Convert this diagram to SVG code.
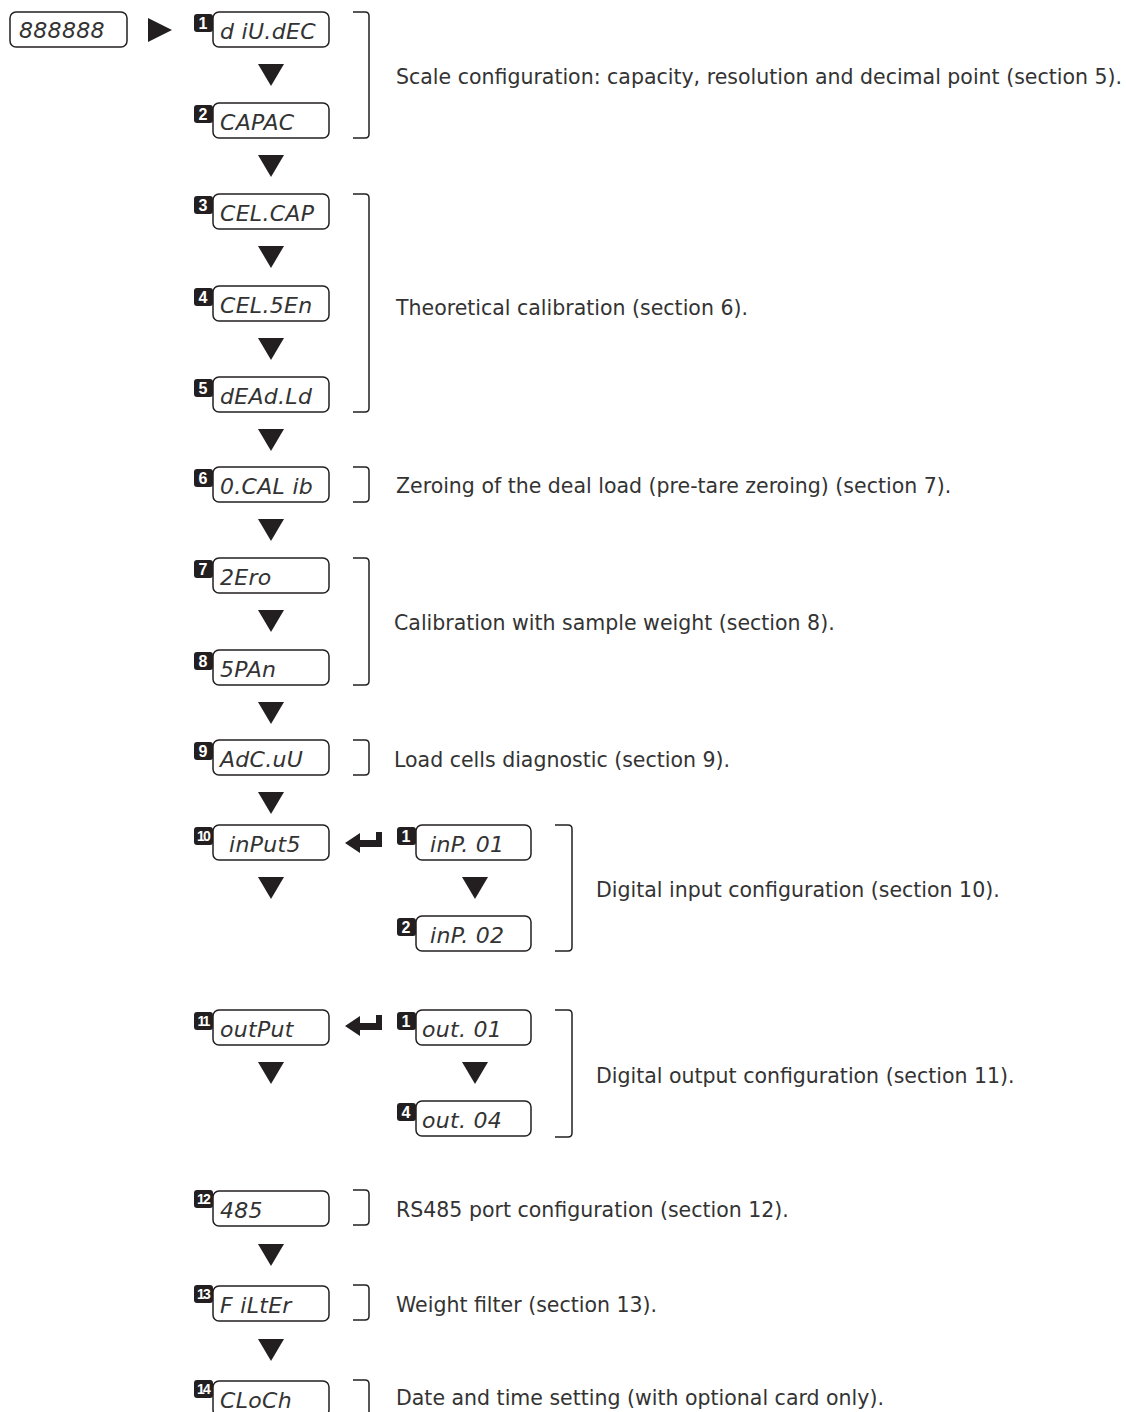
<svg xmlns="http://www.w3.org/2000/svg" width="1126" height="1412" viewBox="0 0 1126 1412">
<style>
.box{fill:#fff;stroke:#231f20;stroke-width:1.5}
.badge{fill:#231f20}
.bn{font-family:"Liberation Sans",Arial,sans-serif;font-weight:bold;font-size:16px;fill:#fff;text-anchor:middle}
.bn2{font-family:"Liberation Sans",Arial,sans-serif;font-weight:bold;font-size:14px;fill:#fff;text-anchor:middle;letter-spacing:-1.8px}
.disp{font-family:"DejaVu Sans","Liberation Sans",sans-serif;font-style:italic;font-size:22px;fill:#333;letter-spacing:0.3px}
.tri{fill:#231f20}
.br{fill:none;stroke:#231f20;stroke-width:1.5}
.lbl{font-family:"DejaVu Sans","Liberation Sans",sans-serif;font-size:20.5px;fill:#333}
</style>
<g id="start">
<rect class="box" x="10" y="12" width="117" height="35" rx="6"/>
<text class="disp" x="19" y="38">888888</text>
</g>
<g id="n1"><rect class="box" x="213" y="12" width="116" height="35" rx="6"/><rect class="badge" x="194" y="14" width="19" height="18" rx="3"/><text class="bn" x="203" y="29">1</text><text class="disp" x="220" y="39">d iU.dEC</text></g>
<g id="n2"><rect class="box" x="213" y="103" width="116" height="35" rx="6"/><rect class="badge" x="194" y="105" width="19" height="18" rx="3"/><text class="bn" x="203" y="120">2</text><text class="disp" x="220" y="130">CAPAC</text></g>
<g id="n3"><rect class="box" x="213" y="194" width="116" height="35" rx="6"/><rect class="badge" x="194" y="196" width="19" height="18" rx="3"/><text class="bn" x="203" y="211">3</text><text class="disp" x="220" y="221">CEL.CAP</text></g>
<g id="n4"><rect class="box" x="213" y="286" width="116" height="35" rx="6"/><rect class="badge" x="194" y="288" width="19" height="18" rx="3"/><text class="bn" x="203" y="303">4</text><text class="disp" x="220" y="313">CEL.5En</text></g>
<g id="n5"><rect class="box" x="213" y="377" width="116" height="35" rx="6"/><rect class="badge" x="194" y="379" width="19" height="18" rx="3"/><text class="bn" x="203" y="394">5</text><text class="disp" x="220" y="404">dEAd.Ld</text></g>
<g id="n6"><rect class="box" x="213" y="467" width="116" height="35" rx="6"/><rect class="badge" x="194" y="469" width="19" height="18" rx="3"/><text class="bn" x="203" y="484">6</text><text class="disp" x="220" y="494">0.CAL ib</text></g>
<g id="n7"><rect class="box" x="213" y="558" width="116" height="35" rx="6"/><rect class="badge" x="194" y="560" width="19" height="18" rx="3"/><text class="bn" x="203" y="575">7</text><text class="disp" x="220" y="585">2Ero</text></g>
<g id="n8"><rect class="box" x="213" y="650" width="116" height="35" rx="6"/><rect class="badge" x="194" y="652" width="19" height="18" rx="3"/><text class="bn" x="203" y="667">8</text><text class="disp" x="220" y="677">5PAn</text></g>
<g id="n9"><rect class="box" x="213" y="740" width="116" height="35" rx="6"/><rect class="badge" x="194" y="742" width="19" height="18" rx="3"/><text class="bn" x="203" y="757">9</text><text class="disp" x="220" y="767">AdC.uU</text></g>
<g id="n10"><rect class="box" x="213" y="825" width="116" height="35" rx="6"/><rect class="badge" x="194" y="827" width="19" height="18" rx="3"/><text class="bn2" x="203" y="841">10</text><text class="disp" x="229" y="852">inPut5</text></g>
<g id="n11"><rect class="box" x="213" y="1010" width="116" height="35" rx="6"/><rect class="badge" x="194" y="1012" width="19" height="18" rx="3"/><text class="bn2" x="203" y="1026">11</text><text class="disp" x="220" y="1037">outPut</text></g>
<g id="n12"><rect class="box" x="213" y="1191" width="116" height="35" rx="6"/><rect class="badge" x="194" y="1190" width="19" height="18" rx="3"/><text class="bn2" x="203" y="1204">12</text><text class="disp" x="220" y="1218">485</text></g>
<g id="n13"><rect class="box" x="213" y="1286" width="116" height="35" rx="6"/><rect class="badge" x="194" y="1285" width="19" height="18" rx="3"/><text class="bn2" x="203" y="1299">13</text><text class="disp" x="220" y="1313">F iLtEr</text></g>
<g id="n14"><rect class="box" x="213" y="1381" width="116" height="35" rx="6"/><rect class="badge" x="194" y="1380" width="19" height="18" rx="3"/><text class="bn2" x="203" y="1394">14</text><text class="disp" x="220" y="1408">CLoCh</text></g>
<g id="in1"><rect class="box" x="416" y="825" width="115" height="35" rx="6"/><rect class="badge" x="397" y="827" width="19" height="18" rx="3"/><text class="bn" x="406" y="842">1</text><text class="disp" x="430" y="852">inP. 01</text></g>
<g id="in2"><rect class="box" x="416" y="916" width="115" height="35" rx="6"/><rect class="badge" x="397" y="918" width="19" height="18" rx="3"/><text class="bn" x="406" y="933">2</text><text class="disp" x="430" y="943">inP. 02</text></g>
<g id="out1"><rect class="box" x="416" y="1010" width="115" height="35" rx="6"/><rect class="badge" x="397" y="1012" width="19" height="18" rx="3"/><text class="bn" x="406" y="1027">1</text><text class="disp" x="422" y="1037">out. 01</text></g>
<g id="out4"><rect class="box" x="416" y="1101" width="115" height="35" rx="6"/><rect class="badge" x="397" y="1103" width="19" height="18" rx="3"/><text class="bn" x="406" y="1118">4</text><text class="disp" x="422" y="1128">out. 04</text></g>
<g id="connectors">
<polygon class="tri" points="148,18 172,30 148,42"/>
<polygon class="tri" points="258,64 284,64 271,86"/>
<polygon class="tri" points="258,155 284,155 271,177"/>
<polygon class="tri" points="258,246 284,246 271,268"/>
<polygon class="tri" points="258,338 284,338 271,360"/>
<polygon class="tri" points="258,429 284,429 271,451"/>
<polygon class="tri" points="258,519 284,519 271,541"/>
<polygon class="tri" points="258,610 284,610 271,632"/>
<polygon class="tri" points="258,702 284,702 271,724"/>
<polygon class="tri" points="258,792 284,792 271,814"/>
<polygon class="tri" points="258,877 284,877 271,899"/>
<polygon class="tri" points="258,1062 284,1062 271,1084"/>
<polygon class="tri" points="258,1244 284,1244 271,1266"/>
<polygon class="tri" points="258,1339 284,1339 271,1361"/>
<polygon class="tri" points="462,877 488,877 475,899"/>
<polygon class="tri" points="462,1062 488,1062 475,1084"/>
<path class="tri" d="M345,843 L360,833 L360,840 L376,840 L376,832 L382,832 L382,847 L360,847 L360,853 Z"/>
<path class="tri" d="M345,1026 L360,1016 L360,1023 L376,1023 L376,1015 L382,1015 L382,1030 L360,1030 L360,1036 Z"/>
<path class="br" d="M353,12 H365 Q369,12 369,16 V134 Q369,138 365,138 H353"/>
<path class="br" d="M353,194 H365 Q369,194 369,198 V408 Q369,412 365,412 H353"/>
<path class="br" d="M353,467 H365 Q369,467 369,471 V498 Q369,502 365,502 H353"/>
<path class="br" d="M353,558 H365 Q369,558 369,562 V681 Q369,685 365,685 H353"/>
<path class="br" d="M353,740 H365 Q369,740 369,744 V771 Q369,775 365,775 H353"/>
<path class="br" d="M555,825 H568 Q572,825 572,829 V947 Q572,951 568,951 H555"/>
<path class="br" d="M555,1010 H568 Q572,1010 572,1014 V1133 Q572,1137 568,1137 H555"/>
<path class="br" d="M353,1190 H365 Q369,1190 369,1194 V1221 Q369,1225 365,1225 H353"/>
<path class="br" d="M353,1285 H365 Q369,1285 369,1289 V1316 Q369,1320 365,1320 H353"/>
<path class="br" d="M353,1380 H365 Q369,1380 369,1384 V1412"/>
</g>
<g id="labels">
<text class="lbl" x="396" y="84">Scale configuration: capacity, resolution and decimal point (section 5).</text>
<text class="lbl" x="396" y="315">Theoretical calibration (section 6).</text>
<text class="lbl" x="396" y="493">Zeroing of the deal load (pre-tare zeroing) (section 7).</text>
<text class="lbl" x="394" y="630">Calibration with sample weight (section 8).</text>
<text class="lbl" x="394" y="767">Load cells diagnostic (section 9).</text>
<text class="lbl" x="596" y="897">Digital input configuration (section 10).</text>
<text class="lbl" x="596" y="1083">Digital output configuration (section 11).</text>
<text class="lbl" x="396" y="1217">RS485 port configuration (section 12).</text>
<text class="lbl" x="396" y="1312">Weight filter (section 13).</text>
<text class="lbl" x="396" y="1405">Date and time setting (with optional card only).</text>
</g>
</svg>
